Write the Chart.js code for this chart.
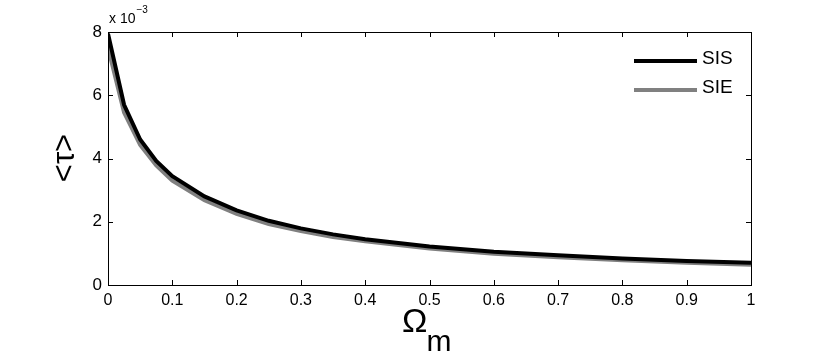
<!DOCTYPE html>
<html><head><meta charset="utf-8">
<script src="https://cdn.jsdelivr.net/npm/chart.js@4"></script>
<style>html,body{margin:0;padding:0;background:#fff}#w{width:830px;height:358px}</style>
</head><body><div id="w"><canvas id="c" width="830" height="358"></canvas></div>
<script>
const omegaM = [0, 0.025, 0.05, 0.075, 0.1, 0.15, 0.2, 0.25, 0.3, 0.35, 0.4, 0.5, 0.6, 0.7, 0.8, 0.9, 1.0];
const sisValues = [7.95, 5.70, 4.60, 3.92, 3.44, 2.80, 2.36, 2.03, 1.79, 1.60, 1.45, 1.22, 1.05, 0.94, 0.84, 0.76, 0.70];
const sieValues = [7.50, 5.45, 4.43, 3.78, 3.30, 2.68, 2.25, 1.93, 1.71, 1.52, 1.38, 1.15, 0.99, 0.88, 0.78, 0.70, 0.64];
const seriesLabels = ['SIS', 'SIE'];
const yTickValues = [0, 2, 4, 6, 8];
const FONT = '"Liberation Sans", Arial, Helvetica, sans-serif';

const framePlugin = {
  id: 'frame',
  afterDraw(chart) {
    const ctx = chart.ctx, a = chart.chartArea;
    const xs = chart.scales.x, ys = chart.scales.y;
    ctx.save();
    ctx.strokeStyle = '#000'; ctx.lineWidth = 1;
    ctx.strokeRect(Math.round(a.left) + 0.5, Math.round(a.top) + 0.5, Math.round(a.right - a.left), Math.round(a.bottom - a.top));
    const L = 5;
    xs.ticks.forEach(t => {
      const px = Math.round(xs.getPixelForValue(t.value)) + 0.5;
      ctx.beginPath();
      ctx.moveTo(px, a.bottom); ctx.lineTo(px, a.bottom - L);
      ctx.moveTo(px, a.top); ctx.lineTo(px, a.top + L);
      ctx.stroke();
    });
    ys.ticks.forEach(t => {
      const py = Math.round(ys.getPixelForValue(t.value)) + 0.5;
      ctx.beginPath();
      ctx.moveTo(a.left, py); ctx.lineTo(a.left + L, py);
      ctx.moveTo(a.right, py); ctx.lineTo(a.right - L, py);
      ctx.stroke();
    });
    // multiplier
    ctx.fillStyle = '#000';
    ctx.textBaseline = 'alphabetic'; ctx.textAlign = 'left';
    ctx.font = '14px ' + FONT;
    ctx.fillText('x 10', a.left + 1, 23);
    const w = ctx.measureText('x 10').width;
    ctx.font = '10px ' + FONT;
    ctx.fillText('\u22123', a.left + 1 + w + 1, 13);
    // x label
    ctx.font = '34px ' + FONT;
    ctx.fillText('\u03A9', 402, 332);
    const ow = ctx.measureText('\u03A9').width;
    ctx.font = '30px ' + FONT;
    ctx.fillText('m', 402 + ow - 1, 351);
    // y label
    ctx.save();
    ctx.translate(74, 158);
    ctx.rotate(-Math.PI / 2);
    ctx.textAlign = 'center';
    ctx.font = '31px ' + FONT;
    ctx.fillText('<\u03C4>', 0, 0);
    ctx.restore();
    // legend
    chart.data.datasets.forEach((ds, i) => {
      const y = 61 + i * 29;
      ctx.strokeStyle = ds.borderColor; ctx.lineWidth = 4;
      ctx.beginPath(); ctx.moveTo(634, y); ctx.lineTo(697, y); ctx.stroke();
      ctx.fillStyle = '#000';
      ctx.font = '19px ' + FONT; ctx.textAlign = 'left'; ctx.textBaseline = 'middle';
      ctx.fillText(ds.label, 702, y - 2);
    });
    ctx.restore();
  }
};

new Chart(document.getElementById('c'), {
  type: 'line',
  data: {
    datasets: [
      { label: seriesLabels[0], data: omegaM.map((x, i) => ({x, y: sisValues[i]})), borderColor: '#000000', borderWidth: 4, pointRadius: 0, tension: 0, order: 0 },
      { label: seriesLabels[1], data: omegaM.map((x, i) => ({x, y: sieValues[i]})), borderColor: '#808080', borderWidth: 4, pointRadius: 0, tension: 0, order: 1 }
    ]
  },
  options: {
    responsive: false, animation: false,
    layout: { padding: { top: 32, right: 79, left: 0, bottom: 0 } },
    plugins: { legend: { display: false }, tooltip: { enabled: false } },
    scales: {
      x: {
        type: 'linear', min: 0, max: 1,
        ticks: { stepSize: 0.1, color: '#000', font: { family: FONT, size: 16 }, padding: 6, maxRotation: 0,
          callback: v => String(Math.round(v * 10) / 10) },
        grid: { display: false, drawTicks: false }, border: { display: false },
        afterFit: s => { s.height = 73; }
      },
      y: {
        type: 'linear', min: 0, max: 8,
        afterBuildTicks: s => { s.ticks = yTickValues.map(v => ({ value: v })); },
        ticks: { color: '#000', font: { family: FONT, size: 17 }, padding: 6 },
        grid: { display: false, drawTicks: false }, border: { display: false },
        afterFit: s => { s.width = 108; }
      }
    }
  },
  plugins: [framePlugin]
});
</script></body></html>
